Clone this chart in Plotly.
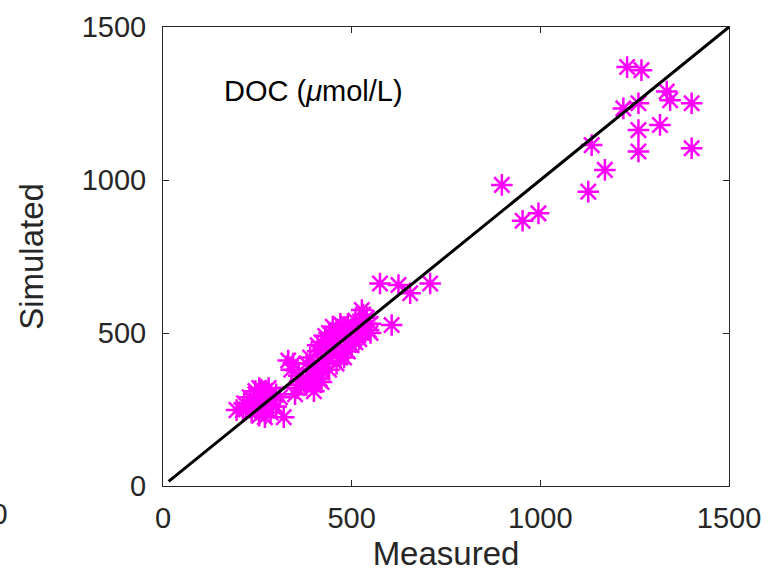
import plotly.graph_objects as go

# Measured vs simulated DOC (umol/L)
measured = [
    230, 245, 255, 260, 270, 240, 250, 265, 280, 275, 220, 235, 290, 300, 255, 270, 285, 320,
    245, 260, 230, 215, 300, 310, 265, 280, 250, 240, 195, 212,
    332, 340, 350, 360, 370, 380, 345, 355, 390, 400,
    380, 390, 400, 410, 420, 430, 440, 450, 460, 470, 480, 490, 500, 510, 520, 530, 540, 550,
    440, 450, 460, 470, 480, 420, 430, 400, 410, 460, 480, 500, 440, 450, 470, 490, 420, 430,
    410, 460, 480, 500, 520, 360, 395, 415, 440, 470, 490, 510, 530, 545, 520, 550, 380, 400, 420,
    527, 575, 624, 655, 708, 606,
    898, 953, 995, 1127, 1171, 1136,
    1230, 1268, 1335, 1344, 1401, 1260, 1220, 1317, 1260, 1260, 1401,
]
simulated = [
    260, 300, 320, 290, 310, 280, 270, 250, 300, 275, 250, 240, 280, 300, 230, 225, 240, 225,
    310, 315, 290, 270, 260, 290, 285, 320, 250, 260, 248, 248,
    410, 380, 300, 330, 350, 340, 400, 320, 360, 330,
    400, 420, 380, 440, 410, 450, 470, 490, 510, 500, 520, 530, 510, 540, 520, 560, 550, 530,
    420, 440, 460, 480, 500, 380, 400, 360, 370, 400, 450, 460, 500, 520, 530, 500, 470, 490,
    460, 430, 420, 480, 500, 360, 380, 350, 380, 420, 440, 470, 500, 510, 480, 500, 330, 310, 340,
    575, 662, 657, 630, 662, 526,
    984, 867, 891, 962, 1033, 1114,
    1369, 1359, 1289, 1261, 1251, 1251, 1234, 1180, 1163, 1093, 1104,
]

line_x = [15, 1500]
line_y = [15, 1500]

x_ticks = [0, 500, 1000, 1500]
y_ticks = [0, 500, 1000, 1500]

font_family = "Liberation Sans, Arial, Helvetica, sans-serif"
axis_color = "#262626"

fig = go.Figure()
fig.add_trace(go.Scatter(
    x=measured, y=simulated, mode="markers",
    marker=dict(symbol="asterisk-open", size=18, color="#FF00FF",
                line=dict(color="#FF00FF", width=2.5)),
    showlegend=False,
))
fig.add_trace(go.Scatter(
    x=line_x, y=line_y, mode="lines",
    line=dict(color="black", width=3), showlegend=False,
))

axis_common = dict(
    showgrid=False, zeroline=False, showline=True, linecolor=axis_color, linewidth=1,
    mirror="ticks", ticks="inside", ticklen=6, tickwidth=1, tickcolor=axis_color,
    tickfont=dict(family=font_family, size=29, color="#262626"), automargin=False,
)

fig.update_layout(
    width=772, height=572,
    margin=dict(l=163, r=43, t=27, b=86),
    plot_bgcolor="white", paper_bgcolor="white",
    font=dict(family=font_family, color="#262626"),
    xaxis=dict(range=[0, 1500], tickvals=x_ticks, ticktext=[str(v) for v in x_ticks],
               title=dict(text="Measured", font=dict(size=33, family=font_family, color="#262626"),
                          standoff=10),
               ticklabelstandoff=6, **axis_common),
    yaxis=dict(range=[0, 1500], tickvals=y_ticks, ticktext=[str(v) for v in y_ticks],
               title=dict(text="Simulated", font=dict(size=33, family=font_family, color="#262626"),
                          standoff=28),
               ticklabelstandoff=10, **axis_common),
    annotations=[
        dict(text="DOC (<i>μ</i>mol/L)", xref="paper", yref="paper", x=0.105, y=0.86,
             xanchor="left", yanchor="middle", showarrow=False,
             font=dict(size=29, family=font_family, color="black")),
        dict(text="1500", xref="paper", yref="paper", x=-0.27, y=-0.06,
             xanchor="right", yanchor="middle", showarrow=False,
             font=dict(size=29, family=font_family, color="#262626")),
    ],
)

fig.write_html("out.html")
